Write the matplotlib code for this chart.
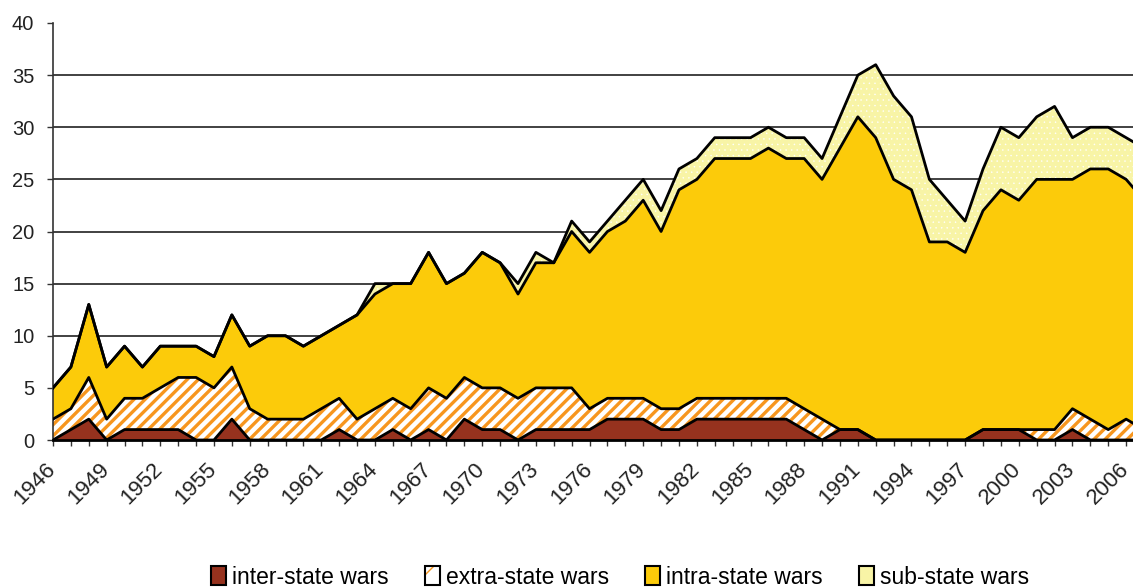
import numpy as np
import matplotlib
matplotlib.use("Agg")
import matplotlib.pyplot as plt
from matplotlib.patches import Patch
from matplotlib.legend_handler import HandlerTuple
from matplotlib.transforms import ScaledTranslation

plt.rcParams['font.family'] = ['Liberation Sans', 'DejaVu Sans']

# data (number of conflicts per year)
years = np.arange(1946, 2008)
inter_state = [0, 1, 2, 0, 1, 1, 1, 1, 0, 0, 2, 0, 0, 0, 0, 0, 1, 0, 0, 1,
               0, 1, 0, 2, 1, 1, 0, 1, 1, 1, 1, 2, 2, 2, 1, 1, 2, 2, 2, 2,
               2, 2, 1, 0, 1, 1, 0, 0, 0, 0, 0, 0, 1, 1, 1, 0, 0, 1, 0, 0,
               0, 0]
extra_state = [2, 2, 4, 2, 3, 3, 4, 5, 6, 5, 5, 3, 2, 2, 2, 3, 3, 2, 3, 3,
               3, 4, 4, 4, 4, 4, 4, 4, 4, 4, 2, 2, 2, 2, 2, 2, 2, 2, 2, 2,
               2, 2, 2, 2, 0, 0, 0, 0, 0, 0, 0, 0, 0, 0, 0, 1, 1, 2, 2, 1,
               2, 1]
intra_state = [3, 4, 7, 5, 5, 3, 4, 3, 3, 3, 5, 6, 8, 8, 7, 7, 7, 10, 11, 11,
               12, 13, 11, 10, 13, 12, 10, 12, 12, 15, 15, 16, 17, 19, 17, 21, 21, 23, 23, 23,
               24, 23, 24, 23, 27, 30, 29, 25, 24, 19, 19, 18, 21, 23, 22, 24, 24, 22, 24, 25,
               23, 22]
sub_state = [0, 0, 0, 0, 0, 0, 0, 0, 0, 0, 0, 0, 0, 0, 0, 0, 0, 0, 1, 0,
             0, 0, 0, 0, 0, 0, 1, 1, 0, 1, 1, 1, 2, 2, 2, 2, 2, 2, 2, 2,
             2, 2, 2, 2, 3, 4, 7, 8, 7, 6, 4, 3, 4, 6, 6, 6, 7, 4, 4, 4,
             4, 5]
labels = ['inter-state wars', 'extra-state wars', 'intra-state wars', 'sub-state wars']

c_inter = '#96321E'
c_extra = '#F7961E'
c_intra = '#FCCB0A'
c_sub = '#F8F4A6'

fig = plt.figure(figsize=(11.33, 5.88), dpi=100)
# right end of the axes runs past the figure edge, like the cropped original
ax = fig.add_axes([53 / 1133, 148 / 588, 1091 / 1133, 417 / 588])

stack = np.cumsum([inter_state, extra_state, intra_state, sub_state], axis=0)
bottoms = np.vstack([np.zeros(len(years)), stack[:-1]])

ax.fill_between(years, bottoms[0], stack[0], facecolor=c_inter, lw=0, zorder=2)
with plt.rc_context({'hatch.linewidth': 2.4}):
    ax.fill_between(years, bottoms[1], stack[1], facecolor='white', edgecolor=c_extra,
                    hatch='///', lw=0, zorder=2)
ax.fill_between(years, bottoms[2], stack[2], facecolor=c_intra, lw=0, zorder=2)
with plt.rc_context({'hatch.linewidth': 0.3}):
    ax.fill_between(years, bottoms[3], stack[3], facecolor=c_sub, edgecolor='white',
                    hatch='...', lw=0, zorder=2)

for top in stack:
    ax.plot(years, top, color='black', lw=2.0, zorder=3)

# gridlines (none on the top value)
for yv in range(5, 40, 5):
    ax.axhline(yv, color='#333333', lw=1.3, zorder=1)

ax.set_xlim(1946, 2007)
ax.set_ylim(0, 40)
ax.set_yticks(range(0, 41, 5))
ax.set_xticks(years[::3])
ax.set_xticks(years, minor=True)

for s in ['top', 'right']:
    ax.spines[s].set_visible(False)
ax.spines['left'].set_color('#333333')
ax.spines['left'].set_linewidth(1.2)
ax.spines['bottom'].set_color('black')
ax.spines['bottom'].set_linewidth(2.0)
ax.spines['bottom'].set_zorder(4)

ax.tick_params(axis='y', length=4.5, width=1, color='#333333', pad=9,
               labelsize=14.5, labelcolor='#222222')
ax.tick_params(axis='x', which='both', length=4.5, width=1, color='#333333')
ax.tick_params(axis='x', which='major', pad=9, labelsize=16, labelcolor='#222222')
shift = ScaledTranslation(-8 / 100, 0, fig.dpi_scale_trans)
for lab in ax.get_xticklabels():
    lab.set_rotation(45)
    lab.set_ha('right')
    lab.set_va('top')
    lab.set_rotation_mode('anchor')
    lab.set_transform(lab.get_transform() + shift)

with plt.rc_context({'hatch.linewidth': 2.0}):
    extra_patch = Patch(facecolor='white', edgecolor=c_extra, hatch='/', lw=0)
handles = [
    Patch(facecolor=c_inter, edgecolor='black', lw=1.5),
    (extra_patch, Patch(facecolor='none', edgecolor='black', lw=1.5)),
    Patch(facecolor=c_intra, edgecolor='black', lw=1.5),
    Patch(facecolor=c_sub, edgecolor='black', lw=1.5),
]
fig.legend(handles, labels, loc='center', bbox_to_anchor=(620 / 1133, 1 - 577 / 588),
           ncol=4, frameon=False, fontsize=16.5, handlelength=0.65, handleheight=0.85,
           handletextpad=0.25, columnspacing=1.6,
           handler_map={tuple: HandlerTuple(ndivide=1, pad=0)})

fig.savefig('out.png', dpi=100)
